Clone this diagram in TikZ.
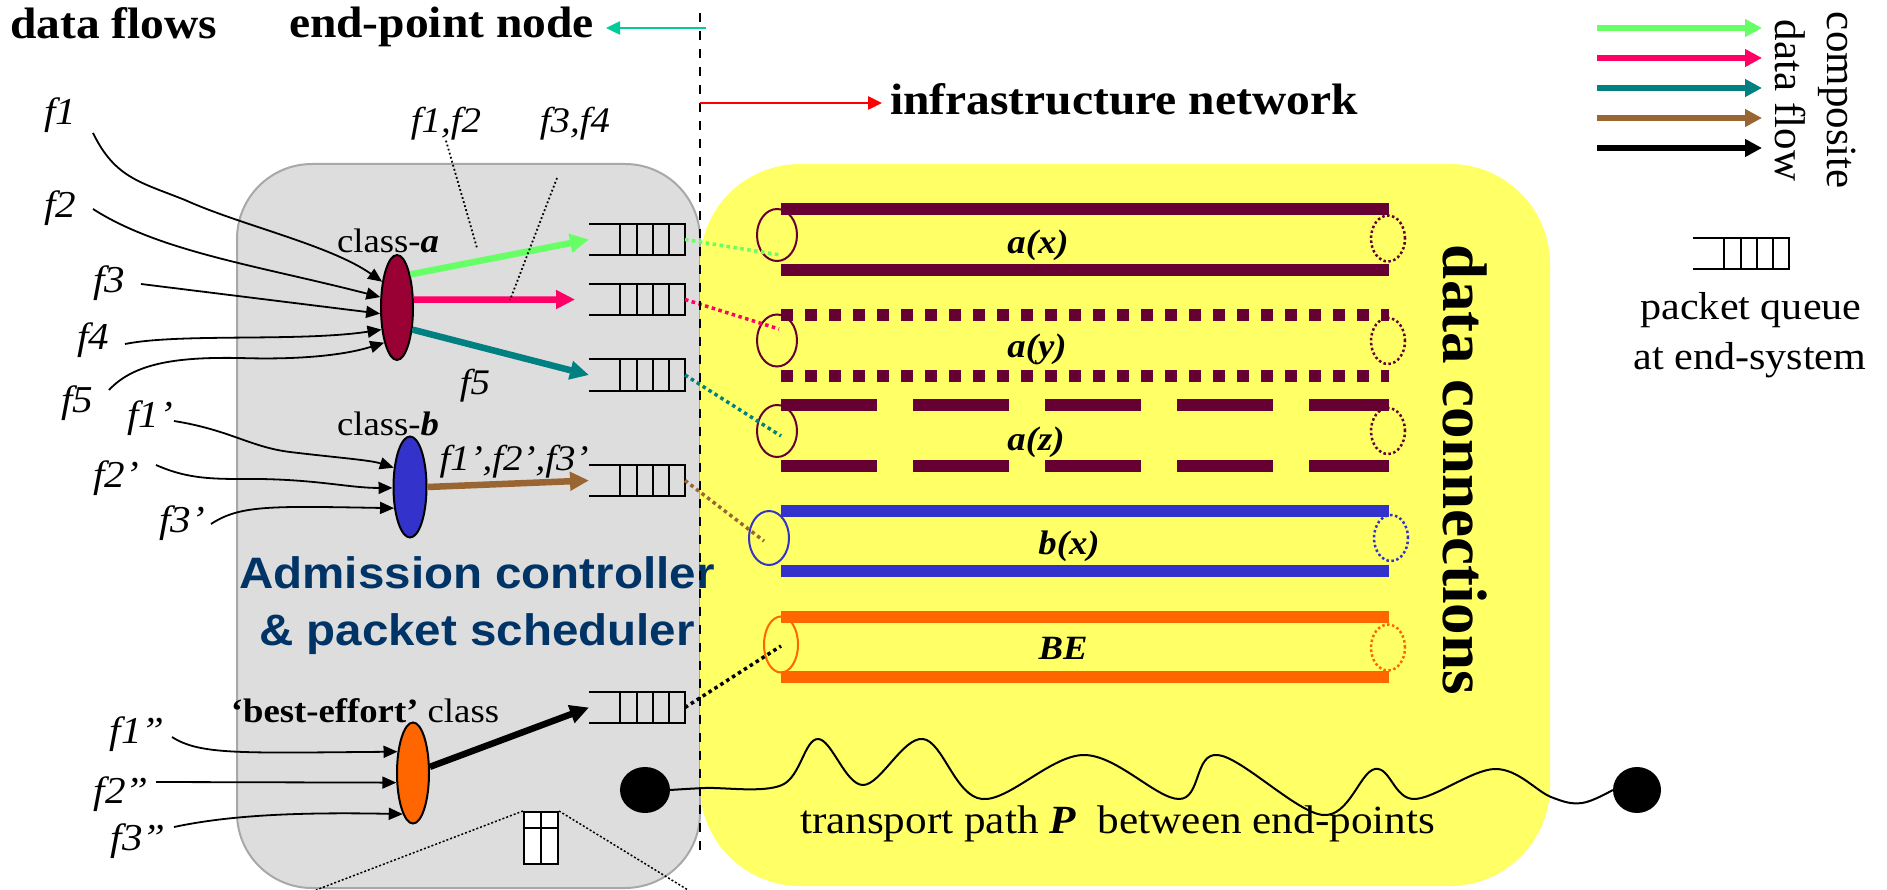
\documentclass[tikz,border=0pt]{standalone}
\usepackage{fontspec}
\setmainfont{Liberation Serif}[FakeStretch=1.08, UprightFont=* , BoldFont=* Bold, ItalicFont=* Italic, BoldItalicFont=* Bold Italic]
\newfontfamily\rotfont{Liberation Serif}
\newfontfamily\admfont{Liberation Sans}[FakeStretch=1.08, BoldFont=* Bold]
\usetikzlibrary{arrows.meta,shapes.geometric,calc}
\definecolor{cgreen}{HTML}{66FF66}
\definecolor{cpink}{HTML}{FF0066}
\definecolor{cteal}{HTML}{008080}
\definecolor{cbrown}{HTML}{996633}
\definecolor{grayfill}{HTML}{DDDDDD}
\definecolor{grayedge}{HTML}{A8A8A8}
\definecolor{yfill}{HTML}{FFFF66}
\definecolor{pmar}{HTML}{660033}
\definecolor{clsa}{HTML}{990033}
\definecolor{cblue}{HTML}{3333CC}
\definecolor{corange}{HTML}{FF6600}
\definecolor{epgreen}{HTML}{00CC99}
\definecolor{admblue}{HTML}{003366}
\newcommand\queuebox[3]{%
  \node[minimum width=96pt, minimum height=31pt, inner sep=0, outer sep=0] (#1) at (#2,#3) {};
  \draw[qline] (#1.north west) -- (#1.north east) -- (#1.south east) -- (#1.south west);
  \foreach \qq in {31,48,64,80} {\draw[qline] ([xshift=\qq pt]#1.north west) -- ([xshift=\qq pt]#1.south west);}
}
\begin{document}
\begin{tikzpicture}[x=1pt,y=-1pt,
  txt/.style={inner sep=0, outer sep=0},
  hdr/.style={txt, font=\fontsize{44}{50}\selectfont\bfseries, anchor=base west},
  flab/.style={txt, font=\fontsize{38}{44}\selectfont\itshape, anchor=base},
  mlab/.style={txt, font=\fontsize{36}{42}\selectfont\itshape, anchor=base},
  plab/.style={txt, font=\fontsize{34}{40}\selectfont\bfseries\itshape, anchor=base},
  clab/.style={txt, font=\fontsize{34}{40}\selectfont, anchor=base},
  reg/.style={txt, font=\fontsize{39}{46}\selectfont, anchor=base},
  qline/.style={line width=2pt, black},
  flow/.style={line width=1.8pt, -{Triangle[length=14pt,width=12pt]}},
  cflow/.style={line width=6.5pt, -{Triangle[length=19pt,width=18pt]}},
  lflow/.style={line width=6pt, -{Triangle[length=17pt,width=17pt]}},
  qdot/.style={line width=3.5pt, dash pattern=on 3.5pt off 3.5pt},
  pdot/.style={line width=1.8pt, dash pattern=on 1.8pt off 2.4pt},
  lell/.style={ellipse, draw, line width=2pt, minimum width=40pt, minimum height=52pt, inner sep=0},
  rell/.style={ellipse, draw, line width=2.5pt, dash pattern=on 2.5pt off 2.5pt, minimum width=34pt, minimum height=46pt, inner sep=0},
  bar/.style={line width=12pt},
  cls/.style={ellipse, draw, line width=2pt, minimum width=32pt, minimum height=104pt, inner sep=0}
]
\useasboundingbox (0,0) rectangle (1887,890);

% boxes
\node[draw=grayedge, fill=grayfill, line width=2pt, rounded corners=75pt, minimum width=463pt, minimum height=724pt, inner sep=0] (epbox) at (468.5,526) {};
\node[fill=yfill, rounded corners=100pt, minimum width=850pt, minimum height=722pt, inner sep=0] (netbox) at (1125,525) {};

% pipe ends
\node[lell, draw=pmar] (lax) at (777,235) {};
\node[lell, draw=pmar] (lay) at (777,340.5) {};
\node[lell, draw=pmar] (laz) at (777,431) {};
\node[lell, draw=cblue, minimum height=54pt] (lbx) at (769,538) {};
\node[lell, draw=corange, minimum width=34pt, minimum height=56pt] (lbe) at (781,644.5) {};
\node[rell, draw=pmar] (rax) at (1388,238.5) {};
\node[rell, draw=pmar] (ray) at (1388,341) {};
\node[rell, draw=pmar] (raz) at (1388,431) {};
\node[rell, draw=cblue] (rbx) at (1391,538) {};
\node[rell, draw=corange] (rbe) at (1388,647.5) {};

% pipes
\draw[bar, pmar] (781,209) -- (1389,209);
\draw[bar, pmar] (781,270) -- (1389,270);
\draw[bar, pmar, dash pattern=on 12pt off 12pt] (781,315) -- (1389,315);
\draw[bar, pmar, dash pattern=on 12pt off 12pt] (781,376) -- (1389,376);
\draw[bar, pmar, dash pattern=on 96pt off 36pt] (781,405) -- (1389,405);
\draw[bar, pmar, dash pattern=on 96pt off 36pt] (781,466) -- (1389,466);
\draw[bar, cblue] (781,511) -- (1389,511);
\draw[bar, cblue] (781,571) -- (1389,571);
\draw[bar, corange] (781,616.5) -- (1389,616.5);
\draw[bar, corange] (781,676.5) -- (1389,676.5);

\node[plab] (tax) at (1038,254) {a(x)};
\node[plab] (tay) at (1037,358) {a(y)};
\node[plab] (taz) at (1036,450) {a(z)};
\node[plab] (tbx) at (1069,554) {b(x)};
\node[plab] (tbe) at (1063,659) {BE};

\node[txt, font=\rotfont\fontsize{63}{70}\selectfont\bfseries, rotate=-90, anchor=base west] (dcon) at (1443,245) {data connections};

% queues
\queuebox{q1}{637}{239.5}
\queuebox{q2}{637}{299.5}
\queuebox{q3}{637}{375}
\queuebox{q4}{637}{480.5}
\queuebox{q5}{637}{707.5}
\queuebox{ql}{1741}{253.5}

% class ellipses
\node[cls, fill=clsa, minimum height=105pt] (ca) at (397,307.5) {};
\node[cls, fill=cblue, minimum width=33pt, minimum height=101pt] (cb) at (410,487) {};
\node[cls, fill=corange, minimum height=101pt] (cbe) at (413,773) {};

% flow start points
\coordinate (s1) at (93,133);
\coordinate (s2) at (93,209);
\coordinate (s3) at (141,284);
\coordinate (s4) at (125,344);
\coordinate (s5) at (109,390);
\coordinate (s1b) at (174,421);
\coordinate (s2b) at (156,465);
\coordinate (s3b) at (211,524);
\coordinate (s1c) at (172,737);
\coordinate (s2c) at (156,782);
\coordinate (s3c) at (174,827);

\draw[flow] (s1) .. controls (115,178) and (140,182) .. (185,200) .. controls (240,225) and (330,245) .. (ca.120);
\draw[flow] (s2) .. controls (160,252) and (260,266) .. (ca.148);
\draw[flow] (s3) -- (ca.200);
\draw[flow] (s4) .. controls (180,333) and (300,342) .. (ca.235);
\draw[flow] (s5) .. controls (135,362) and (180,357) .. (240,358) .. controls (300,360) and (345,355) .. (ca.250);
\draw[flow] (s1b) .. controls (230,430) and (250,447) .. (290,452) .. controls (340,458) and (370,460) .. (cb.130);
\draw[flow] (s2b) .. controls (190,480) and (215,479) .. (260,479) .. controls (320,480) and (350,488) .. (cb.183);
\draw[flow] (s3b) .. controls (240,505) and (270,506) .. (cb.233);
\draw[flow] (s1c) .. controls (200,755) and (240,753) .. (cbe.126);
\draw[flow] (s2c) -- (cbe.210);
\draw[flow] (s3c) .. controls (230,815) and (300,812) .. (cbe.256);

% composite flows
\draw[cflow, cgreen] (ca.68) -- (q1.west);
\draw[cflow, cpink] (ca.25) -- ([xshift=-14pt]q2.west);
\draw[cflow, cteal] (ca.-55) -- (q3.west);
\draw[cflow, cbrown] (cb.east) -- (q4.west);
\draw[cflow, black] (cbe.20) -- (q5.west);

% dotted links queue -> connection
\draw[qdot, cgreen] (q1.east) -- ($(lax)+(3,20)$);
\draw[qdot, cpink] (q2.east) -- ($(lay)+(2,-11.5)$);
\draw[qdot, cteal] (q3.east) -- ($(laz)+(4,5)$);
\draw[qdot, cbrown] (q4.east) -- ($(lbx)+(-5,3)$);
\draw[qdot, black] (q5.east) -- ($(lbe)+(0,1.5)$);

% labels
\node[hdr] (tdf) at (10,39) {data flows};
\node[hdr] (tep) at (289,38) {end-point node};
\node[hdr] (tin) at (890,115) {infrastructure network};

\node[flab] (f1) at (60,125) {f1};
\node[flab] (f2) at (60,218) {f2};
\node[flab] (f3) at (109,293) {f3};
\node[flab] (f4) at (93,350) {f4};
\node[flab] (f5) at (77,412) {f5};
\node[flab] (f1b) at (150,427) {f1’};
\node[flab] (f2b) at (116,487) {f2’};
\node[flab] (f3b) at (182,532) {f3’};
\node[flab] (f1c) at (137,743) {f1”};
\node[flab] (f2c) at (121,803) {f2”};
\node[flab] (f3c) at (138,850) {f3”};

\node[mlab] (l12) at (446,133) {f1,f2};
\node[mlab] (l34) at (575,133) {f3,f4};
\node[mlab] (l5) at (475,395) {f5};
\node[mlab] (lb) at (514,470) {f1’,f2’,f3’};
\coordinate (p12) at (477,248);
\coordinate (p34a) at (557,178);
\coordinate (p34b) at (510,300);
\draw[pdot] (l12.south) -- (p12);
\draw[pdot] (p34a) -- (p34b);

\node[clab] (tca) at (388,253) {class-\textbf{\textit{a}}};
\node[clab] (tcb) at (388,435) {class-\textbf{\textit{b}}};
\node[clab] (tcbe) at (365,722) {\textbf{‘best-effort’} class};

\node[txt, font=\admfont\fontsize{44}{50}\selectfont\bfseries, text=admblue, anchor=base] (adm1) at (477,588) {Admission controller};
\node[txt, font=\admfont\fontsize{44}{50}\selectfont\bfseries, text=admblue, anchor=base] (adm2) at (477,645) {\& packet scheduler};

% window icon
\node[draw, fill=white, line width=2pt, minimum width=34pt, minimum height=52pt, inner sep=0] (win) at (541,838) {};
\draw[line width=2pt] (win.north) -- (win.south);
\draw[line width=2pt] ([yshift=-17pt]win.north west) -- ([yshift=-17pt]win.north east);
\coordinate (wl) at (316,890);
\coordinate (wr) at (688,890);
\draw[line width=1.5pt, dash pattern=on 2pt off 2pt] (win.north west) -- (wl);
\draw[line width=1.5pt, dash pattern=on 2pt off 2pt] (win.north east) -- (wr);

% transport path
\node[ellipse, fill=black, minimum width=50pt, minimum height=46pt, inner sep=0] (ldot) at (645,790) {};
\node[ellipse, fill=black, minimum width=48pt, minimum height=46pt, inner sep=0] (rdot) at (1637,790) {};
\draw[line width=2pt] plot[smooth, tension=0.6] coordinates {(ldot.east) (705,788) (782,785) (818,739) (863,785) (923,739) (982,799) (1084,755) (1179,799) (1218,755) (1323,815) (1375,769) (1414,799) (1495,769) (1551,797) (1582,803) (rdot.west)};
\node[reg, font=\fontsize{40}{46}\selectfont, anchor=base west] (ttp) at (800,833) {transport path {\bfseries\itshape P}\hspace{22pt}between end-points};

% divider
\coordinate (dtop) at (700,13);
\coordinate (dbot) at (700,858);
\draw[line width=2pt, dash pattern=on 9pt off 9pt] (dtop) -- (dbot);
\coordinate (epS) at (706,28);
\coordinate (epT) at (606,28);
\draw[line width=2.5pt, epgreen, -{Triangle[length=14pt,width=13pt]}] (epS) -- (epT);
\coordinate (inS) at (700,103);
\coordinate (inT) at (882,103);
\draw[line width=2.5pt, red, -{Triangle[length=14pt,width=13pt]}] (inS) -- (inT);

% legend
\foreach \yy/\cc [count=\i] in {28/cgreen,58/cpink,88/cteal,118/cbrown,148/black} {
  \coordinate (lgs\i) at (1597,\yy);
  \coordinate (lge\i) at (1762,\yy);
  \draw[lflow, \cc] (lgs\i) -- (lge\i);
}
\node[txt, font=\rotfont\fontsize{43}{50}\selectfont, rotate=-90, anchor=base west] (tcomp) at (1827,12) {composite};
\node[txt, font=\rotfont\fontsize{43}{50}\selectfont, rotate=-90, anchor=base west] (tdfl) at (1775,20) {data flow};
\node[reg] (tpq1) at (1751,320) {packet queue};
\node[reg] (tpq2) at (1750,370) {at end-system};
\end{tikzpicture}
\end{document}
